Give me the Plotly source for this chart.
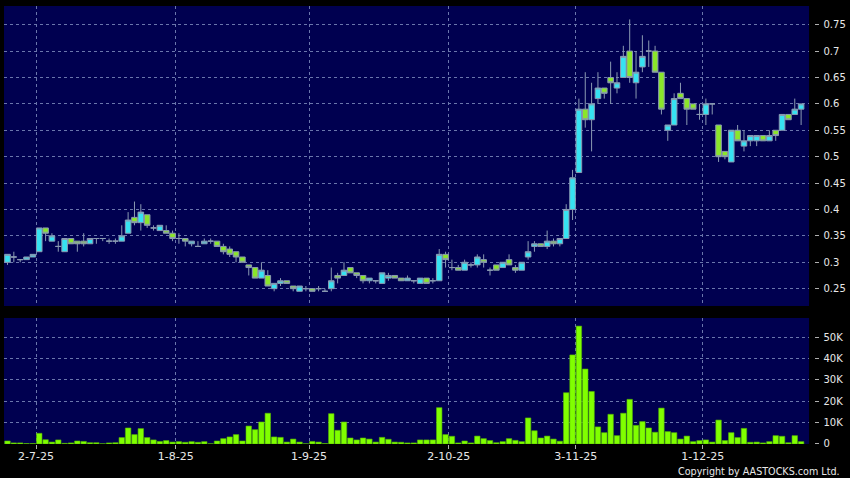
import pandas as pd
import plotly.graph_objects as go

# HK trading days shown on the chart
HOLIDAYS = ["2025-07-01", "2025-10-01", "2025-10-07", "2025-10-29"]
dates = (
    pd.bdate_range("2025-06-24", "2025-12-22", freq="C", holidays=HOLIDAYS)
    .strftime("%Y-%m-%d")
    .tolist()
)

open_ = [
    0.300, 0.310, 0.305, 0.305, 0.310, 0.320, 0.365, 0.340, 0.330, 0.320,
    0.345, 0.340, 0.340, 0.335, 0.345, 0.345, 0.340, 0.340, 0.340, 0.355,
    0.385, 0.375, 0.390, 0.365, 0.360, 0.360, 0.355, 0.345, 0.345, 0.335,
    0.330, 0.335, 0.340, 0.340, 0.330, 0.325, 0.320, 0.310, 0.295, 0.290,
    0.270, 0.275, 0.250, 0.260, 0.265, 0.255, 0.245, 0.250, 0.250, 0.250,
    0.245, 0.250, 0.275, 0.275, 0.290, 0.280, 0.275, 0.265, 0.265, 0.260,
    0.270, 0.275, 0.270, 0.265, 0.265, 0.260, 0.270, 0.265, 0.265, 0.315,
    0.290, 0.290, 0.285, 0.295, 0.295, 0.305, 0.285, 0.295, 0.290, 0.305,
    0.290, 0.285, 0.310, 0.330, 0.335, 0.330, 0.340, 0.335, 0.345, 0.400,
    0.470, 0.590, 0.570, 0.610, 0.630, 0.650, 0.630, 0.650, 0.700, 0.640,
    0.670, 0.700, 0.700, 0.660, 0.550, 0.560, 0.620, 0.610, 0.600, 0.580,
    0.580, 0.600, 0.560, 0.510, 0.490, 0.550, 0.520, 0.530, 0.530, 0.540,
    0.530, 0.550, 0.550, 0.580, 0.580, 0.590,
]
high = [
    0.315, 0.320, 0.305, 0.310, 0.315, 0.365, 0.365, 0.355, 0.340, 0.345,
    0.345, 0.340, 0.355, 0.345, 0.345, 0.345, 0.345, 0.345, 0.370, 0.395,
    0.415, 0.410, 0.390, 0.370, 0.370, 0.370, 0.360, 0.355, 0.345, 0.340,
    0.340, 0.345, 0.345, 0.340, 0.335, 0.330, 0.320, 0.310, 0.295, 0.290,
    0.300, 0.285, 0.260, 0.270, 0.265, 0.255, 0.255, 0.255, 0.250, 0.255,
    0.250, 0.290, 0.280, 0.300, 0.290, 0.280, 0.275, 0.270, 0.265, 0.280,
    0.280, 0.275, 0.270, 0.275, 0.265, 0.270, 0.270, 0.270, 0.325, 0.320,
    0.305, 0.295, 0.305, 0.300, 0.315, 0.315, 0.290, 0.295, 0.300, 0.315,
    0.295, 0.300, 0.340, 0.340, 0.335, 0.360, 0.345, 0.345, 0.410, 0.475,
    0.610, 0.660, 0.640, 0.660, 0.630, 0.680, 0.660, 0.710, 0.760, 0.700,
    0.730, 0.720, 0.710, 0.660, 0.560, 0.620, 0.640, 0.610, 0.600, 0.600,
    0.610, 0.600, 0.560, 0.510, 0.550, 0.560, 0.550, 0.540, 0.540, 0.540,
    0.550, 0.550, 0.580, 0.580, 0.610, 0.600,
]
low = [
    0.295, 0.300, 0.300, 0.305, 0.310, 0.320, 0.340, 0.340, 0.320, 0.320,
    0.335, 0.320, 0.330, 0.335, 0.335, 0.340, 0.335, 0.335, 0.340, 0.355,
    0.370, 0.360, 0.365, 0.360, 0.360, 0.355, 0.340, 0.335, 0.330, 0.330,
    0.330, 0.335, 0.335, 0.330, 0.315, 0.310, 0.300, 0.300, 0.275, 0.270,
    0.270, 0.255, 0.245, 0.255, 0.260, 0.245, 0.245, 0.245, 0.245, 0.245,
    0.245, 0.245, 0.260, 0.275, 0.280, 0.270, 0.260, 0.260, 0.260, 0.260,
    0.265, 0.270, 0.265, 0.265, 0.260, 0.260, 0.260, 0.260, 0.265, 0.290,
    0.285, 0.285, 0.285, 0.290, 0.290, 0.290, 0.275, 0.285, 0.290, 0.295,
    0.280, 0.285, 0.305, 0.320, 0.330, 0.325, 0.330, 0.330, 0.345, 0.380,
    0.470, 0.555, 0.510, 0.600, 0.610, 0.600, 0.620, 0.650, 0.640, 0.610,
    0.660, 0.670, 0.660, 0.580, 0.530, 0.560, 0.610, 0.560, 0.590, 0.570,
    0.560, 0.580, 0.490, 0.495, 0.490, 0.530, 0.510, 0.520, 0.520, 0.530,
    0.530, 0.530, 0.550, 0.570, 0.580, 0.560,
]
close = [
    0.315, 0.310, 0.305, 0.310, 0.315, 0.365, 0.355, 0.350, 0.330, 0.345,
    0.335, 0.335, 0.335, 0.345, 0.345, 0.345, 0.340, 0.340, 0.350, 0.380,
    0.375, 0.395, 0.370, 0.365, 0.370, 0.355, 0.345, 0.345, 0.340, 0.340,
    0.330, 0.340, 0.340, 0.330, 0.320, 0.315, 0.310, 0.300, 0.290, 0.270,
    0.285, 0.255, 0.260, 0.265, 0.260, 0.250, 0.255, 0.250, 0.245, 0.250,
    0.245, 0.265, 0.270, 0.285, 0.280, 0.275, 0.265, 0.270, 0.265, 0.280,
    0.275, 0.270, 0.265, 0.270, 0.265, 0.270, 0.260, 0.265, 0.315, 0.305,
    0.290, 0.285, 0.300, 0.295, 0.310, 0.300, 0.285, 0.285, 0.300, 0.295,
    0.285, 0.300, 0.320, 0.335, 0.330, 0.340, 0.335, 0.345, 0.400, 0.460,
    0.590, 0.570, 0.600, 0.630, 0.620, 0.640, 0.640, 0.690, 0.650, 0.660,
    0.690, 0.700, 0.660, 0.590, 0.560, 0.610, 0.610, 0.590, 0.590, 0.580,
    0.600, 0.600, 0.500, 0.500, 0.550, 0.530, 0.530, 0.540, 0.540, 0.530,
    0.540, 0.540, 0.580, 0.570, 0.590, 0.600,
]
volume = [
    1400, 500, 500, 200, 200, 5000, 2000, 900, 1900, 300,
    500, 1400, 1200, 600, 600, 100, 500, 600, 3000, 7500,
    4400, 7200, 3000, 1900, 1200, 1600, 900, 1100, 800, 1100,
    800, 1100, 100, 1400, 2500, 3300, 4400, 1400, 8400, 6700,
    10300, 14400, 3300, 3100, 900, 2300, 900, 100, 1200, 900,
    200, 14200, 6400, 10300, 2800, 1900, 2800, 2300, 900, 3100,
    2200, 900, 800, 500, 500, 1900, 1900, 1900, 17000, 4400,
    3600, 500, 1400, 500, 3700, 2500, 1600, 600, 1100, 2500,
    1700, 1100, 12200, 6200, 2800, 3700, 2300, 1300, 24000, 41700,
    55200, 35100, 24600, 8000, 5300, 13900, 3900, 14400, 20900, 8700,
    10500, 7500, 5500, 16800, 5800, 5300, 2300, 3700, 1100, 1600,
    1900, 900, 11200, 1600, 5300, 3000, 7300, 800, 900, 500,
    1100, 3900, 3600, 600, 3900, 1100,
]

label_dates = ["2025-07-02", "2025-08-01", "2025-09-01", "2025-10-02", "2025-11-03", "2025-12-01"]
label_text = ["2-7-25", "1-8-25", "1-9-25", "2-10-25", "3-11-25", "1-12-25"]
price_ticks = [0.25, 0.30, 0.35, 0.40, 0.45, 0.50, 0.55, 0.60, 0.65, 0.70, 0.75]
price_text = ["0.25", "0.3", "0.35", "0.4", "0.45", "0.5", "0.55", "0.6", "0.65", "0.7", "0.75"]
vol_ticks = [0, 10000, 20000, 30000, 40000, 50000]
vol_text = ["0", "10K", "20K", "30K", "40K", "50K"]

NAVY = "#000050"
CYAN = "#36e2f2"
GREEN = "#8ae62a"
LIME = "#80ff00"
EDGE = "#8a9ab2"
GRID = "#6a76ac"
TEXT = "#e8e8e8"

# gridlines / ticks sit on the left edge of the labelled day
x_ticks = [dates.index(d) - 0.5 for d in label_dates]

fig = go.Figure()
fig.add_trace(go.Candlestick(
    x=dates, open=open_, high=high, low=low, close=close,
    increasing=dict(fillcolor=CYAN, line=dict(color=EDGE, width=1)),
    decreasing=dict(fillcolor=GREEN, line=dict(color=EDGE, width=1)),
    whiskerwidth=0, showlegend=False, hoverinfo="skip",
    xaxis="x", yaxis="y",
))
fig.add_trace(go.Bar(
    x=dates, y=volume,
    marker=dict(color=LIME, line=dict(color="#56b800", width=0.6)),
    showlegend=False, hoverinfo="skip",
    xaxis="x2", yaxis="y2",
))

grid = dict(showgrid=True, gridcolor=GRID, gridwidth=1, griddash="3px,3px", zeroline=False)
x_common = dict(
    type="category", domain=[0, 0.989], range=[-0.55, 126.25],
    tickmode="array", tickvals=x_ticks, **grid,
)

fig.update_layout(
    width=850, height=478,
    margin=dict(l=4, r=28, t=6, b=34),
    paper_bgcolor="black", plot_bgcolor=NAVY,
    font=dict(family="DejaVu Sans", size=11, color=TEXT),
    boxgap=0.12, boxgroupgap=0, bargap=0.14,
    xaxis=dict(anchor="y", showticklabels=False, ticks="",
               rangeslider=dict(visible=False), **x_common),
    xaxis2=dict(anchor="y2", matches="x", ticktext=label_text, ticks="outside",
                ticklen=4, tickcolor="#b0b0b0", ticklabelstandoff=-2,
                tickfont=dict(size=11), **x_common),
    yaxis=dict(domain=[0.3151, 1], range=[0.2172, 0.7854], anchor="free",
               position=0.9951, side="right", tickmode="array",
               tickvals=price_ticks, ticktext=price_text, ticks="outside",
               ticklen=3.5, tickcolor="#b0b0b0", ticklabelstandoff=3,
               tickfont=dict(size=10), **grid),
    yaxis2=dict(domain=[0, 0.2877], range=[0, 59000], anchor="free",
                position=0.9951, side="right", tickmode="array",
                tickvals=vol_ticks, ticktext=vol_text, ticks="outside",
                ticklen=3.5, tickcolor="#b0b0b0", ticklabelstandoff=3,
                tickfont=dict(size=10), **grid),
)

fig.add_annotation(
    text="Copyright by AASTOCKS.com Ltd.", xref="paper", yref="paper",
    x=1.03, y=-0.062, xanchor="right", yanchor="middle", showarrow=False,
    font=dict(size=9.6, color=TEXT),
)

# the page's default body margin would shift the chart; remove it
fig.write_html(
    "out.html",
    config={"displayModeBar": False},
    post_script="document.body.style.margin='0';",
)
